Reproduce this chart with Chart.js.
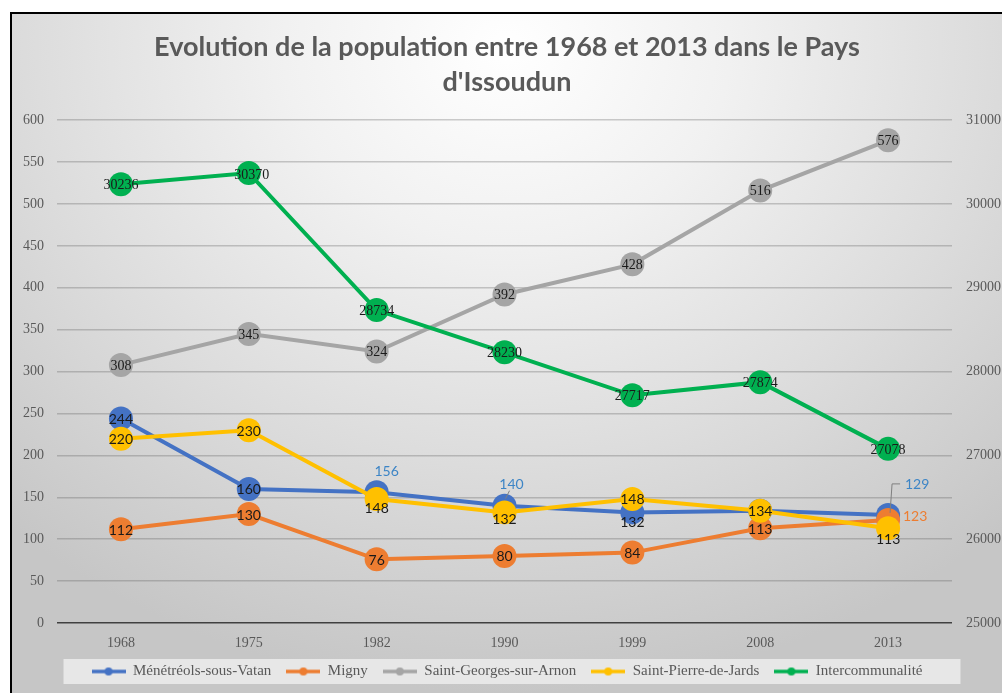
<!DOCTYPE html>
<html>
<head>
<meta charset="utf-8">
<script src="https://cdn.jsdelivr.net/npm/chart.js@4"></script>
<style>
  html, body { margin: 0; padding: 0; overflow: hidden; background: #fff; }
  #frame {
    position: absolute; left: 10px; top: 12px;
    width: 990px; height: 679px;
    border: 2px solid #000;
    background: radial-gradient(ellipse 75% 95% at 50% 5%, #ffffff 0%, #f1f1f1 30%, #dcdcdc 65%, #c6c6c6 100%);
  }
</style>
</head>
<body>
<div id="frame"><canvas id="c"></canvas></div>
<script>
const years = ['1968', '1975', '1982', '1990', '1999', '2008', '2013'];
const menetreols = [244, 160, 156, 140, 132, 134, 129];
const migny = [112, 130, 76, 80, 84, 113, 123];
const saintGeorges = [308, 345, 324, 392, 428, 516, 576];
const saintPierre = [220, 230, 148, 132, 148, 134, 113];
const interco = [30236, 30370, 28734, 28230, 27717, 27874, 27078];

const COLORS = {
  blue: '#4472C4', orange: '#ED7D31', gray: '#A5A5A5', yellow: '#FFC000', green: '#00B050'
};

const SERIF = '"Liberation Serif", "DejaVu Serif", serif';
const SANS = 'Lato, "Open Sans", sans-serif';

// label tweaks, keyed "dataset:index"
const labelTweaks = {
  '0:2': { dx: 10, dy: -22, color: '#3d85c6' },
  '0:3': { dx: 7, dy: -22, color: '#3d85c6', leader: [[1, -7], [5, -15]] },
  '0:4': { dy: 9 },
  '0:5': { hide: true },
  '0:6': { dx: 29, dy: -31, color: '#3d85c6', leader: [[2, -2], [4, -31], [12, -31]] },
  '1:6': { dx: 27, dy: -4, color: COLORS.orange },
  '3:2': { dy: 9 },
  '3:3': { dy: 6 },
  '3:6': { dy: 10 },
  '4:1': { dx: 3, dy: 1 }
};

function legendIcon(color) {
  const cv = document.createElement('canvas');
  cv.width = 34; cv.height = 12;
  const g = cv.getContext('2d');
  g.strokeStyle = color; g.lineWidth = 3.5;
  g.beginPath(); g.moveTo(0, 6); g.lineTo(34, 6); g.stroke();
  g.fillStyle = color;
  g.beginPath(); g.arc(17, 6, 4, 0, Math.PI * 2); g.fill();
  return cv;
}

function series(label, data, color, axis, order, font) {
  return {
    label, data, yAxisID: axis, order,
    borderColor: color, backgroundColor: color,
    borderWidth: 4, pointRadius: 12, pointHoverRadius: 12,
    pointBackgroundColor: color, pointBorderColor: color, pointBorderWidth: 0,
    icon: legendIcon(color), labelFont: font, tension: 0
  };
}

const dataLabels = {
  id: 'dataLabels',
  afterDatasetsDraw(chart) {
    const ctx = chart.ctx;
    ctx.save();
    chart.data.datasets.forEach((ds, di) => {
      const meta = chart.getDatasetMeta(di);
      meta.data.forEach((pt, i) => {
        const tw = labelTweaks[di + ':' + i] || {};
        if (tw.hide) return;
        const x = pt.x, y = pt.y;
        if (tw.leader) {
          ctx.strokeStyle = '#7f7f7f'; ctx.lineWidth = 1;
          ctx.beginPath();
          tw.leader.forEach((p, k) => k ? ctx.lineTo(x + p[0], y + p[1]) : ctx.moveTo(x + p[0], y + p[1]));
          ctx.stroke();
        }
        ctx.font = ds.labelFont;
        ctx.fillStyle = tw.color || '#1a1a1a';
        ctx.textAlign = 'center';
        ctx.textBaseline = 'middle';
        ctx.fillText(String(ds.data[i]), x + (tw.dx || 0), y + (tw.dy || 0) + 1);
      });
    });
    ctx.restore();
  }
};

const legendBox = {
  id: 'legendBox',
  beforeDraw(chart) {
    const boxes = chart.legend && chart.legend.legendHitBoxes;
    if (!boxes || !boxes.length) return;
    const minX = Math.min(...boxes.map(b => b.left));
    const maxX = Math.max(...boxes.map(b => b.left + b.width));
    const cy = boxes[0].top + boxes[0].height / 2;
    const ctx = chart.ctx;
    ctx.save();
    ctx.fillStyle = 'rgba(236,236,236,0.85)';
    ctx.fillRect(minX - 28, cy - 12.5, maxX - minX + 66, 25);
    ctx.restore();
  }
};

const gridColor = 'rgba(90,90,90,0.3)';

new Chart(document.getElementById('c'), {
  type: 'line',
  data: {
    labels: years,
    datasets: [
      series('Ménétréols-sous-Vatan', menetreols, COLORS.blue, 'y', 5, '14px ' + SANS),
      series('Migny', migny, COLORS.orange, 'y', 4, '14px ' + SANS),
      series('Saint-Georges-sur-Arnon', saintGeorges, COLORS.gray, 'y', 3, '14px ' + SERIF),
      series('Saint-Pierre-de-Jards', saintPierre, COLORS.yellow, 'y', 2, '14px ' + SANS),
      series('Intercommunalité', interco, COLORS.green, 'y1', 1, '14px ' + SERIF)
    ]
  },
  options: {
    responsive: true,
    maintainAspectRatio: false,
    animation: false,
    layout: { padding: { top: 0, bottom: 4, left: 0, right: 0 } },
    plugins: {
      tooltip: { enabled: false },
      title: {
        display: true,
        text: ['Evolution de la population entre 1968 et 2013 dans le Pays', "d'Issoudun"],
        color: '#595959',
        font: { family: SANS, size: 27, weight: 'bold', lineHeight: 1.3 },
        padding: { top: 16, bottom: 20 }
      },
      legend: {
        position: 'bottom',
        labels: {
          usePointStyle: true,
          pointStyleWidth: 34,
          color: '#595959',
          font: { family: SERIF, size: 15 },
          padding: 15,
          generateLabels(chart) {
            return chart.data.datasets.map((ds, i) => ({
              text: ds.label,
              datasetIndex: i,
              pointStyle: ds.icon,
              fillStyle: ds.borderColor,
              strokeStyle: ds.borderColor,
              fontColor: '#595959',
              lineWidth: 0,
              hidden: false
            }));
          }
        }
      }
    },
    scales: {
      x: {
        offset: true,
        grid: { display: false, drawTicks: false },
        border: { display: false },
        ticks: { color: '#595959', font: { family: SERIF, size: 14 }, padding: 12 },
        afterFit(s) { s.height = 26; }
      },
      y: {
        position: 'left',
        min: 0, max: 600,
        ticks: { stepSize: 50, color: '#595959', font: { family: SERIF, size: 14 }, padding: 13 },
        grid: {
          drawTicks: false, lineWidth: 1.5,
          color: c => c.tick.value === 0 ? '#404040' : gridColor
        },
        border: { display: false },
        afterFit(s) { s.width = 45; }
      },
      y1: {
        position: 'right',
        min: 25000, max: 31000,
        ticks: { stepSize: 1000, color: '#595959', font: { family: SERIF, size: 14 }, padding: 14, callback: v => String(v) },
        grid: { drawOnChartArea: false, drawTicks: false },
        border: { display: false },
        afterFit(s) { s.width = 50; }
      }
    }
  },
  plugins: [legendBox, dataLabels]
});
</script>
</body>
</html>
